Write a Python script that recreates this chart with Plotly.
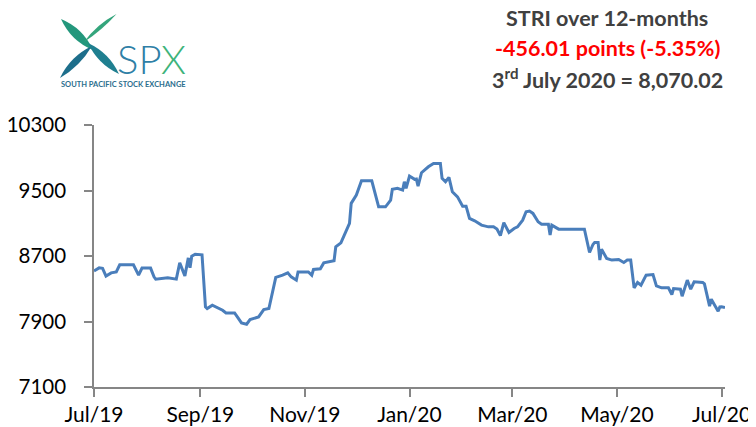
import plotly.graph_objects as go

# ---------------- data ----------------
dates_jul19 = ["2019-07-01","2019-07-04","2019-07-06","2019-07-08","2019-07-11","2019-07-14","2019-07-16","2019-07-24","2019-07-27","2019-07-29"]
vals_jul19 = [8518, 8555, 8550, 8454, 8494, 8506, 8592, 8592, 8466, 8552]
dates_aug19 = ["2019-08-03","2019-08-05","2019-08-06","2019-08-13","2019-08-18","2019-08-20","2019-08-23","2019-08-25","2019-08-26","2019-08-27","2019-08-29"]
vals_aug19 = [8552, 8445, 8417, 8433, 8417, 8616, 8457, 8677, 8555, 8698, 8722]
dates_sep19 = ["2019-09-02","2019-09-04","2019-09-05","2019-09-08","2019-09-11","2019-09-14","2019-09-16","2019-09-21","2019-09-23","2019-09-25","2019-09-28","2019-09-30"]
vals_sep19 = [8715, 8078, 8058, 8099, 8066, 8038, 8005, 8005, 7944, 7883, 7867, 7924]
dates_oct19 = ["2019-10-05","2019-10-08","2019-10-11","2019-10-13","2019-10-15","2019-10-19","2019-10-22","2019-10-24","2019-10-27","2019-10-28"]
vals_oct19 = [7956, 8046, 8058, 8262, 8438, 8466, 8494, 8445, 8405, 8506]
dates_nov19 = ["2019-11-03","2019-11-05","2019-11-06","2019-11-10","2019-11-12","2019-11-18","2019-11-19","2019-11-22","2019-11-24","2019-11-27","2019-11-28","2019-11-30"]
vals_nov19 = [8506, 8466, 8535, 8543, 8616, 8641, 8812, 8861, 8955, 9098, 9343, 9423]
dates_dec19 = ["2019-12-01","2019-12-04","2019-12-10","2019-12-14","2019-12-18","2019-12-21","2019-12-22","2019-12-25","2019-12-28","2019-12-29","2019-12-30"]
vals_dec19 = [9444, 9619, 9619, 9301, 9301, 9383, 9514, 9526, 9505, 9607, 9526]
dates_jan20 = ["2020-01-01","2020-01-04","2020-01-05","2020-01-06","2020-01-08","2020-01-12","2020-01-15","2020-01-19","2020-01-20","2020-01-22","2020-01-24","2020-01-26","2020-01-29"]
vals_jan20 = [9676, 9636, 9640, 9554, 9717, 9790, 9831, 9831, 9648, 9607, 9660, 9484, 9423]
dates_feb20 = ["2020-02-01","2020-02-03","2020-02-05","2020-02-08","2020-02-12","2020-02-16","2020-02-19","2020-02-21","2020-02-23","2020-02-25","2020-02-28"]
vals_feb20 = [9309, 9309, 9159, 9130, 9077, 9056, 9056, 9030, 8950, 9108, 8988]
dates_mar20 = ["2020-03-02","2020-03-04","2020-03-07","2020-03-09","2020-03-11","2020-03-13","2020-03-16","2020-03-18","2020-03-22","2020-03-23","2020-03-24","2020-03-28"]
vals_mar20 = [9036, 9056, 9138, 9240, 9249, 9220, 9118, 9089, 9089, 8955, 9077, 9028]
dates_apr20 = ["2020-04-12","2020-04-15","2020-04-17","2020-04-18","2020-04-20","2020-04-21","2020-04-22","2020-04-25","2020-04-28"]
vals_apr20 = [9028, 8743, 8841, 8866, 8866, 8650, 8784, 8670, 8650]
dates_may20 = ["2020-05-02","2020-05-05","2020-05-07","2020-05-09","2020-05-11","2020-05-13","2020-05-15","2020-05-18","2020-05-22","2020-05-24","2020-05-27","2020-05-31"]
vals_may20 = [8658, 8621, 8650, 8650, 8311, 8377, 8344, 8466, 8474, 8335, 8311, 8311]
dates_jun20 = ["2020-06-02","2020-06-03","2020-06-07","2020-06-08","2020-06-11","2020-06-13","2020-06-15","2020-06-20","2020-06-21","2020-06-24","2020-06-25","2020-06-27","2020-06-29","2020-06-30"]
vals_jun20 = [8230, 8303, 8295, 8209, 8405, 8295, 8384, 8377, 8360, 8087, 8172, 8099, 8026, 8078]
dates_jul20 = ["2020-07-01","2020-07-03"]
vals_jul20 = [8080, 8070.02]

dates = (dates_jul19 + dates_aug19 + dates_sep19 + dates_oct19 + dates_nov19 + dates_dec19 +
         dates_jan20 + dates_feb20 + dates_mar20 + dates_apr20 + dates_may20 + dates_jun20 + dates_jul20)
values = (vals_jul19 + vals_aug19 + vals_sep19 + vals_oct19 + vals_nov19 + vals_dec19 +
          vals_jan20 + vals_feb20 + vals_mar20 + vals_apr20 + vals_may20 + vals_jun20 + vals_jul20)

y_ticks = [7100, 7900, 8700, 9500, 10300]
title_line1 = "STRI over 12-months"
title_line2 = "-456.01 points (-5.35%)"
title_line3 = "3<sup>rd</sup> July 2020 = 8,070.02"

# ---------------- layout geometry ----------------
# The page body has an 8px default margin, so the figure is drawn 8px in.
OFF = 8
WIN_W, WIN_H = 756, 427
W, H = WIN_W - OFF, WIN_H - OFF
# plot area in window pixels: x 94..725, y 125..387
L, R, T, B = 94 - OFF, WIN_W - 725, 125 - OFF, WIN_H - 387
PW, PH = W - L - R, H - T - B

def px(x):  # window pixel x -> paper
    return (x - OFF - L) / PW

def py(y):  # window pixel y -> paper
    return (H - B - (y - OFF)) / PH

def path(points):
    out = []
    for cmd, *c in points:
        pts = []
        for i in range(0, len(c), 2):
            pts.append(f"{px(c[i]):.4f},{py(c[i+1]):.4f}")
        out.append(cmd + " " + " ".join(pts))
    return " ".join(out) + " Z"

fig = go.Figure()
fig.add_trace(go.Scatter(
    x=dates, y=values, mode="lines",
    line=dict(color="#4a7ebb", width=3),
    hoverinfo="x+y", showlegend=False,
))

axis_col = "#868686"
fig.update_layout(
    width=W, height=H,
    margin=dict(l=L, r=R, t=T, b=B, autoexpand=False),
    paper_bgcolor="white", plot_bgcolor="white",
    font=dict(family="Lato, Calibri, sans-serif", color="#000000", size=20),
    xaxis=dict(
        type="date", range=["2019-07-01", "2020-07-03"],
        tick0="2019-07-01", dtick="M2", tickformat="%b/%y",
        showgrid=False, zeroline=False, automargin=False,
        showline=True, linecolor=axis_col, linewidth=1.5,
        ticks="outside", ticklen=8, tickcolor=axis_col, tickwidth=1.5,
        tickfont=dict(size=21, color="#000000"),
    ),
    yaxis=dict(
        range=[7100, 10300], tickvals=y_ticks, tickformat="d",
        showgrid=False, zeroline=False, automargin=False,
        showline=True, linecolor=axis_col, linewidth=1.5,
        ticks="outside", ticklen=8, tickcolor=axis_col, tickwidth=1.5,
        tickfont=dict(size=20.5, color="#000000"),
        ticklabelstandoff=14,
    ),
)

# ---------------- title block (top right) ----------------
for txt, ycen, col, hgt in [(title_line1, 17.5, "#404040", 22),
                            (title_line2, 48, "#ff0000", None),
                            (title_line3, 78, "#404040", None)]:
    fig.add_annotation(
        x=px(607), y=py(ycen), xref="paper", yref="paper",
        text=f"<b>{txt}</b>", showarrow=False, xanchor="center", yanchor="middle",
        height=hgt, borderpad=0,
        font=dict(family="Lato, Calibri, sans-serif", size=21.5, color=col),
    )

# ---------------- logo ----------------
blades = [
    # top-left blade (green)
    ([("M", 61, 19), ("Q", 83, 28, 93, 50), ("Q", 71, 41, 61, 19)], "#23977c"),
    # top-right thin blade
    ([("M", 116.5, 14), ("Q", 96.7, 24.3, 84, 42), ("Q", 102, 30.2, 116.5, 14)], "#34a57c"),
    # bottom-left blade (dark teal)
    ([("M", 92, 46), ("Q", 70.3, 56.3, 60, 78), ("Q", 80.2, 66.2, 92, 46)], "#1d6e8b"),
    # bottom-right blade (teal)
    ([("M", 88, 43), ("Q", 109.2, 52.8, 119, 74), ("Q", 97.8, 64.2, 88, 43)], "#1f7f90"),
]
for pts, col in blades:
    fig.add_shape(type="path", xref="paper", yref="paper", path=path(pts),
                  fillcolor=col, line=dict(width=0), layer="above")

fig.add_annotation(
    x=px(116), y=py(59), xref="paper", yref="paper",
    text="<span style='color:#2f7fa6'>SP</span><span style='color:#3db37a'>X</span>",
    showarrow=False, xanchor="left", yanchor="middle",
    height=34, borderpad=0,
    font=dict(family="Lato, sans-serif", size=40, weight=300, color="#2f7fa6"),
)
fig.add_annotation(
    x=px(123.5), y=py(84.5), xref="paper", yref="paper",
    text="<b>SOUTH PACIFIC STOCK EXCHANGE</b>",
    showarrow=False, xanchor="center", yanchor="middle", borderpad=0,
    font=dict(family="Lato, sans-serif", size=7.5, color="#2b6e8e"),
)

fig.write_html("out.html")
